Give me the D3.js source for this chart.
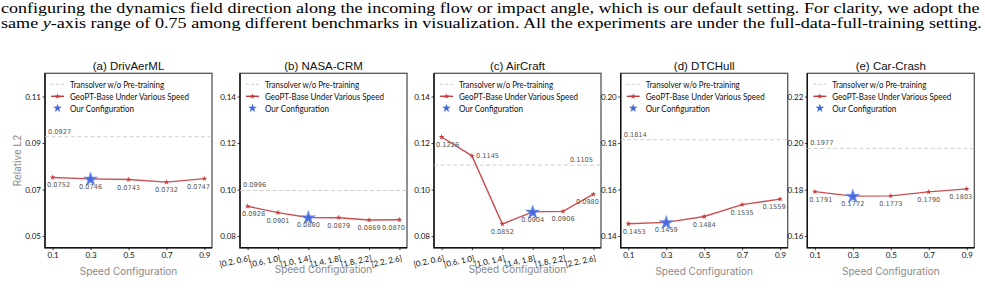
<!DOCTYPE html>
<html><head><meta charset="utf-8">
<script src="https://cdn.jsdelivr.net/npm/d3@7"></script>
<style>
html,body{margin:0;padding:0;background:#fff;}
svg{display:block;}
</style>
</head><body>
<svg id="chart" width="985" height="292"></svg>
<script>
// ---------- data ----------
const paragraphLines = [
  "configuring the dynamics field direction along the incoming flow or impact angle, which is our default setting. For clarity, we adopt the",
  "same y-axis range of 0.75 among different benchmarks in visualization. All the experiments are under the full-data-full-training setting."
];
const panelTitles = ["(a) DrivAerML", "(b) NASA-CRM", "(c) AirCraft", "(d) DTCHull", "(e) Car-Crash"];
const speedLabels = ["0.1", "0.3", "0.5", "0.7", "0.9"];
const rangeLabels = ["[0.2, 0.6]", "[0.6, 1.0]", "[1.0, 1.4]", "[1.4, 1.8]", "[1.8, 2.2]", "[2.2, 2.6]"];
const drivaerValues = [0.0752, 0.0746, 0.0743, 0.0732, 0.0747];
const nasaValues = [0.0928, 0.0901, 0.0880, 0.0879, 0.0869, 0.0870];
const aircraftValues = [0.1226, 0.1145, 0.0852, 0.0904, 0.0906, 0.0980];
const dtcValues = [0.1453, 0.1459, 0.1484, 0.1535, 0.1559];
const crashValues = [0.1791, 0.1772, 0.1773, 0.1790, 0.1803];
const baselineValues = [0.0927, 0.0996, 0.1105, 0.1814, 0.1977];
const configIndex = [1, 2, 3, 1, 1];
const yDomains = [[0.045, 0.12], [0.075, 0.15], [0.075, 0.15], [0.135, 0.21], [0.155, 0.23]];
const yTickValues = [
  [0.05, 0.07, 0.09, 0.11],
  [0.08, 0.10, 0.12, 0.14],
  [0.08, 0.10, 0.12, 0.14],
  [0.14, 0.16, 0.18, 0.20],
  [0.16, 0.18, 0.20, 0.22]
];
const legendLabels = ["Transolver w/o Pre-training", "GeoPT-Base Under Various Speed", "Our Configuration"];
const yAxisLabel = "Relative L2";
const xAxisLabel = "Speed Configuration";

// ---------- layout / style ----------
const panelLefts = [45, 240, 434, 620.7, 807.3];
const panelW = 167, panelTop = 73.3, panelBottom = 247.7;
const RED = "#c43c3e", BLUE = "#4169e1";
const legendTextWidths = [94, 119, 64];
const panels = [
  {values: drivaerValues, labels: speedLabels, rotate: false, baseRight: false, side: {}},
  {values: nasaValues, labels: rangeLabels, rotate: true, baseRight: false, side: {}},
  {values: aircraftValues, labels: rangeLabels, rotate: true, baseRight: true, side: {1: "right"}},
  {values: dtcValues, labels: speedLabels, rotate: false, baseRight: false, side: {}},
  {values: crashValues, labels: speedLabels, rotate: false, baseRight: false, side: {}}
];

const svg = d3.select("#chart");

// paragraph text: fixed font size, stretched horizontally to fill the page width
function justified(yBase, build, x0, x1) {
  const t = svg.append("text").attr("x", x0).attr("y", yBase).attr("font-family", "Liberation Serif")
    .attr("font-size", 15.5).attr("fill", "#000");
  build(t);
  const w = t.node().getComputedTextLength();
  t.attr("transform", `translate(${x0},0) scale(${(x1 - x0) / w},1) translate(${-x0},0)`);
}
justified(12.5, t => { t.text(paragraphLines[0]); }, 1, 980);
justified(28.3, t => {
  const parts = paragraphLines[1].split("y-axis");
  t.append("tspan").text(parts[0]);
  t.append("tspan").attr("font-style", "italic").text("y");
  t.append("tspan").text("-axis" + parts[1]);
}, 1, 982);

const bigStar = d3.symbol().type(d3.symbolStar).size(62);
const smallStar = d3.symbol().type(d3.symbolStar).size(10);
const legStar = d3.symbol().type(d3.symbolStar).size(24);

panels.forEach((p, i) => {
  const left = panelLefts[i], right = left + panelW;
  const n = p.values.length;
  const x = d3.scaleLinear().domain([-0.05 * (n - 1), (n - 1) * 1.05]).range([left, right]);
  const y = d3.scaleLinear().domain(yDomains[i]).range([panelBottom, panelTop]);
  const g = svg.append("g");

  // frame
  g.append("rect").attr("x", left).attr("y", panelTop).attr("width", panelW).attr("height", panelBottom - panelTop)
    .attr("fill", "none").attr("stroke", "#555").attr("stroke-width", 1.3);
  g.append("path").attr("d", `M${left},${panelTop}V${panelBottom}H${right}`)
    .attr("fill", "none").attr("stroke", "#111").attr("stroke-width", 1.4);

  // title
  g.append("text").attr("x", (left + right) / 2).attr("y", 69.5).attr("text-anchor", "middle")
    .attr("font-family", "Liberation Sans").attr("font-size", 11.5).attr("fill", "#111").text(panelTitles[i]);

  // y axis
  const yAxis = d3.axisLeft(y).tickValues(yTickValues[i]).tickFormat(d3.format(".2f")).tickSize(2.5).tickPadding(1.5);
  const ya = g.append("g").attr("transform", `translate(${left},0)`).call(yAxis);
  ya.select(".domain").remove();
  ya.selectAll("line").attr("stroke", "#111").attr("stroke-width", 0.8);
  ya.selectAll("text").attr("font-family", "Lato").attr("font-size", 8).attr("fill", "#111");

  // x axis
  const xAxis = d3.axisBottom(x).tickValues(d3.range(n)).tickFormat(k => p.labels[k]).tickSize(2.5).tickPadding(2.5);
  const xa = g.append("g").attr("transform", `translate(0,${panelBottom})`).call(xAxis);
  xa.select(".domain").remove();
  xa.selectAll("line").attr("stroke", "#111").attr("stroke-width", 0.8);
  xa.selectAll("text").attr("font-family", "Lato").attr("font-size", 8).attr("fill", "#111");
  if (p.rotate) {
    xa.selectAll("text").attr("text-anchor", "end").attr("dy", null).attr("y", 0)
      .attr("transform", "translate(2.5,13) rotate(-12)");
  }

  // x label
  g.append("text").attr("x", (left + right) / 2).attr("y", p.rotate ? 273 : 274.5).attr("text-anchor", "middle")
    .attr("font-family", "Inter").attr("font-size", 10).attr("fill", "#8a8a8a").text(xAxisLabel);
  if (i === 0) {
    g.append("text").attr("transform", `translate(21,${(panelTop + panelBottom) / 2}) rotate(-90)`)
      .attr("text-anchor", "middle").attr("font-family", "Inter").attr("font-size", 10).attr("fill", "#8a8a8a").text(yAxisLabel);
  }

  // baseline
  const by = y(baselineValues[i]);
  g.append("line").attr("x1", left).attr("x2", right).attr("y1", by).attr("y2", by)
    .attr("stroke", "#cfcfcf").attr("stroke-width", 1).attr("stroke-dasharray", "4,2.5");
  g.append("text").attr("x", p.baseRight ? right - 8 : left + 3).attr("y", by - 3)
    .attr("text-anchor", p.baseRight ? "end" : "start")
    .attr("font-family", "DejaVu Sans").attr("font-size", 6.6).attr("fill", "#555").text(baselineValues[i].toFixed(4));

  // data line
  const line = d3.line().x((d, k) => x(k)).y(d => y(d));
  g.append("path").datum(p.values).attr("d", line).attr("fill", "none")
    .attr("stroke", RED).attr("stroke-width", 1.4).attr("stroke-opacity", 0.9);
  g.selectAll(".pt").data(p.values).join("path").attr("class", "pt")
    .attr("d", smallStar).attr("transform", (d, k) => `translate(${x(k)},${y(d)})`).attr("fill", RED);

  // config star
  const ci = configIndex[i];
  g.append("path").attr("d", bigStar).attr("transform", `translate(${x(ci)},${y(p.values[ci]) + 0.5})`)
    .attr("fill", BLUE).attr("fill-opacity", 0.92).attr("stroke", "#7f9cf0").attr("stroke-width", 0.6);

  // value labels
  g.selectAll(".vl").data(p.values).join("text").attr("class", "vl")
    .attr("font-family", "DejaVu Sans").attr("font-size", 6.6).attr("fill", "#555")
    .text(d => d.toFixed(4))
    .each(function (d, k) {
      const t = d3.select(this);
      const w = this.getComputedTextLength();
      if (p.side[k] === "right") {
        t.attr("x", x(k) + 4).attr("y", y(d) + 2.5);
      } else {
        let cx = x(k);
        cx = Math.max(left + 2 + w / 2, Math.min(right - 2 - w / 2, cx));
        t.attr("x", cx - w / 2).attr("y", y(d) + 10);
      }
    });

  // legend
  const lx = left + 6, ly = [84.3, 96.3, 108.3];
  g.append("line").attr("x1", lx).attr("x2", lx + 13).attr("y1", ly[0]).attr("y2", ly[0])
    .attr("stroke", "#cfcfcf").attr("stroke-width", 1).attr("stroke-dasharray", "3,2");
  g.append("line").attr("x1", lx).attr("x2", lx + 13).attr("y1", ly[1]).attr("y2", ly[1])
    .attr("stroke", RED).attr("stroke-width", 1.4);
  g.append("path").attr("d", smallStar).attr("transform", `translate(${lx + 6.5},${ly[1]})`).attr("fill", RED);
  g.append("path").attr("d", legStar).attr("transform", `translate(${lx + 6.5},${ly[2]})`).attr("fill", BLUE);
  legendLabels.forEach((lab, k) => {
    g.append("text").attr("x", lx + 19).attr("y", ly[k] + 3.2).attr("font-family", "Lato")
      .attr("font-size", 9.4).attr("fill", "#111")
      .attr("textLength", legendTextWidths[k]).attr("lengthAdjust", "spacingAndGlyphs").text(lab);
  });
});
</script>
</body></html>
